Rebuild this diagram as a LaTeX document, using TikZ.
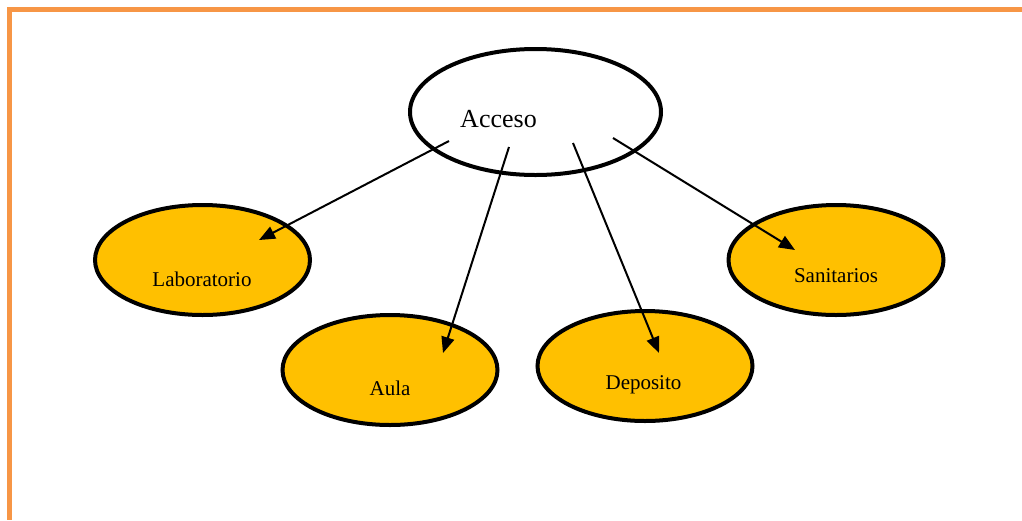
\documentclass[tikz,border=0pt]{standalone}
\usepackage{fontspec}
\setmainfont{Liberation Serif}
\usetikzlibrary{shapes.geometric,arrows.meta}
\definecolor{frameorange}{RGB}{247,150,70}
\definecolor{roomyellow}{RGB}{255,192,0}

\begin{document}
\begin{tikzpicture}[x=1pt, y=-1pt,
    room/.style={ellipse, draw=black, line width=4pt, fill=roomyellow, minimum width=215pt, minimum height=110pt, inner sep=0pt},
    roomtext/.style={inner sep=0pt, font=\fontsize{21}{25}\selectfont},
    link/.style={-{Triangle[length=16pt,width=13pt]}, line width=2pt}]
    \useasboundingbox (0,0) rectangle (1022,520);

    % Page frame
    \draw[frameorange, line width=5pt] (1022,9.5) -- (9.5,9.5) -- (9.5,520);

    % Entrance
    \node[ellipse, draw=black, line width=4pt, fill=white, minimum width=251pt, minimum height=126pt, inner sep=0pt] (acc) at (535.5,112) {};
    \node[inner sep=0pt, font=\fontsize{26}{30}\selectfont] (acctext) at (498.5,119.5) {Acceso};

    % Rooms
    \node[room] (lab) at (202.5,260) {};
    \node[roomtext] (labtext) at (202,279) {Laboratorio};

    \node[room] (aula) at (390,370) {};
    \node[roomtext] (aulatext) at (390,388) {Aula};

    \node[room] (dep) at (645,366) {};
    \node[roomtext] (deptext) at (643.5,385) {Deposito};

    \node[room] (san) at (836,260) {};
    \node[roomtext] (santext) at (836,276) {Sanitarios};

    % Arrow ends
    \coordinate (s1) at (449,141);
    \coordinate (s2) at (509,147);
    \coordinate (s3) at (573,143);
    \coordinate (s4) at (613,138);
    \coordinate (e1) at (259,240);
    \coordinate (e2) at (443,353);
    \coordinate (e3) at (659,353);
    \coordinate (e4) at (795,250);

    % Arrows
    \draw[link] (s1) -- (e1);
    \draw[link] (s2) -- (e2);
    \draw[link] (s3) -- (e3);
    \draw[link] (s4) -- (e4);
\end{tikzpicture}
\end{document}
